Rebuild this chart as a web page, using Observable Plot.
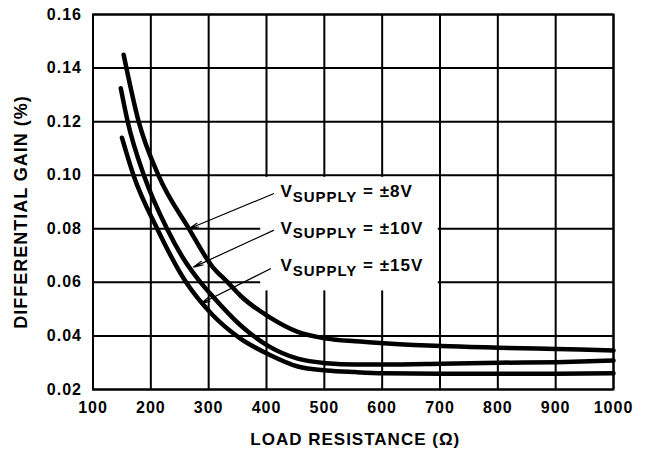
<!DOCTYPE html>
<html>
<head>
<meta charset="utf-8">
<script src="https://cdn.jsdelivr.net/npm/d3@7"></script>
<script src="https://cdn.jsdelivr.net/npm/@observablehq/plot@0.6"></script>
<style>
  html, body { margin: 0; padding: 0; background: white; }
</style>
</head>
<body>
<div id="chart"></div>
<script>
// ---- data ----
const seriesNames = ["±8V", "±10V", "±15V"];
const resistance8  = [153, 179, 213, 266, 306, 333, 355, 405, 454, 504, 554, 603, 702, 802, 901, 1000];
const gain8        = [0.145, 0.12, 0.10, 0.08, 0.066, 0.06, 0.055, 0.047, 0.0415, 0.039, 0.038, 0.0373, 0.0362, 0.0356, 0.0351, 0.0346];
const resistance10 = [148, 160, 188, 228, 256, 286, 306, 355, 405, 454, 504, 554, 603, 702, 802, 901, 1000];
const gain10       = [0.1325, 0.12, 0.10, 0.08, 0.069, 0.06, 0.055, 0.044, 0.036, 0.0315, 0.0298, 0.0293, 0.0293, 0.0296, 0.030, 0.0302, 0.0308];
const resistance15 = [150, 170, 211, 261, 306, 355, 405, 454, 504, 554, 603, 702, 802, 901, 1000];
const gain15       = [0.114, 0.10, 0.08, 0.06, 0.048, 0.039, 0.033, 0.0286, 0.0271, 0.0265, 0.0261, 0.0259, 0.0259, 0.0259, 0.0261];

const xTicks = [100, 200, 300, 400, 500, 600, 700, 800, 900, 1000];
const yTicks = [0.02, 0.04, 0.06, 0.08, 0.10, 0.12, 0.14, 0.16];
const xLabel = "LOAD RESISTANCE (Ω)";
const yLabel = "DIFFERENTIAL GAIN (%)";

// annotation labels and arrows (data coordinates)
const labelTexts = ["VSUPPLY = ±8V", "VSUPPLY = ±10V", "VSUPPLY = ±15V"];
const labelX = [424, 424, 424];
const labelY = [0.0939, 0.0801, 0.0661];
const arrowFromX = [412, 412, 407];
const arrowFromY = [0.0931, 0.0794, 0.0651];
const arrowToX = [266, 274, 286];
const arrowToY = [0.080, 0.0657, 0.052];
const boxX = [390, 697];
const boxY = [0.0568, 0.0992];

// ---- build tables ----
const seriesR = [resistance8, resistance10, resistance15];
const seriesG = [gain8, gain10, gain15];
const rows = [];
seriesNames.forEach((name, s) => {
  seriesR[s].forEach((r, i) => rows.push({series: name, r, g: seriesG[s][i]}));
});
const labels = labelTexts.map((t, i) => ({t, x: labelX[i], y: labelY[i]}));
const arrows = labelTexts.map((t, i) => ({x1: arrowFromX[i], y1: arrowFromY[i], x2: arrowToX[i], y2: arrowToY[i]}));
const box = [{x1: boxX[0], x2: boxX[1], y1: boxY[0], y2: boxY[1]}];

const font = "'Liberation Sans', Arial, Helvetica, sans-serif";

const chart = Plot.plot({
  width: 650,
  height: 452,
  marginLeft: 92.5,
  marginRight: 37,
  marginTop: 14,
  marginBottom: 63,
  style: {fontFamily: font, fontWeight: "bold", background: "white", color: "black", letterSpacing: "1px"},
  x: {domain: [100, 1000]},
  y: {domain: [0.02, 0.16]},
  marks: [
    Plot.gridX(xTicks, {stroke: "black", strokeOpacity: 1, strokeWidth: 2}),
    Plot.gridY(yTicks, {stroke: "black", strokeOpacity: 1, strokeWidth: 2}),
    Plot.rect(box, {x1: "x1", x2: "x2", y1: "y1", y2: "y2", fill: "white"}),
    Plot.frame({stroke: "black", strokeWidth: 2}),
    Plot.line(rows, {x: "r", y: "g", z: "series", stroke: "black", strokeWidth: 4.5, curve: "monotone-x"}),
    Plot.arrow(arrows, {x1: "x1", y1: "y1", x2: "x2", y2: "y2", stroke: "black", strokeWidth: 1.2, headLength: 12, headAngle: 24}),
    Plot.text(labels, {x: "x", y: "y", text: "t", textAnchor: "start", fontSize: 17, fill: "black", letterSpacing: "0.5px"}),
    Plot.axisX(xTicks, {tickSize: 0, tickPadding: 12, fontSize: 16, label: null, tickFormat: d3.format("d"), fill: "black"}),
    Plot.axisY(yTicks, {tickSize: 0, tickPadding: 11, fontSize: 16, label: null, tickFormat: d3.format(".2f"), fill: "black"}),
    Plot.text([xLabel], {frameAnchor: "bottom", dy: 50, dx: 2, fontSize: 17, fill: "black", textAnchor: "middle", lineAnchor: "middle"}),
    Plot.text([yLabel], {frameAnchor: "left", dx: -72, dy: 10, rotate: -90, fontSize: 18, fill: "black", textAnchor: "middle", lineAnchor: "middle"})
  ]
});

// subscript formatting for the supply labels
d3.select(chart).selectAll("text").filter(function() {
  return this.textContent.startsWith("VSUPPLY");
}).each(function() {
  const rest = this.textContent.slice("VSUPPLY".length);
  const sel = d3.select(this);
  sel.text(null);
  sel.append("tspan").text("V");
  sel.append("tspan").attr("dy", "4.5").attr("font-size", 15).text("SUPPLY");
  sel.append("tspan").attr("dy", "-4.5").text(rest);
});

document.getElementById("chart").appendChild(chart);
</script>
</body>
</html>
